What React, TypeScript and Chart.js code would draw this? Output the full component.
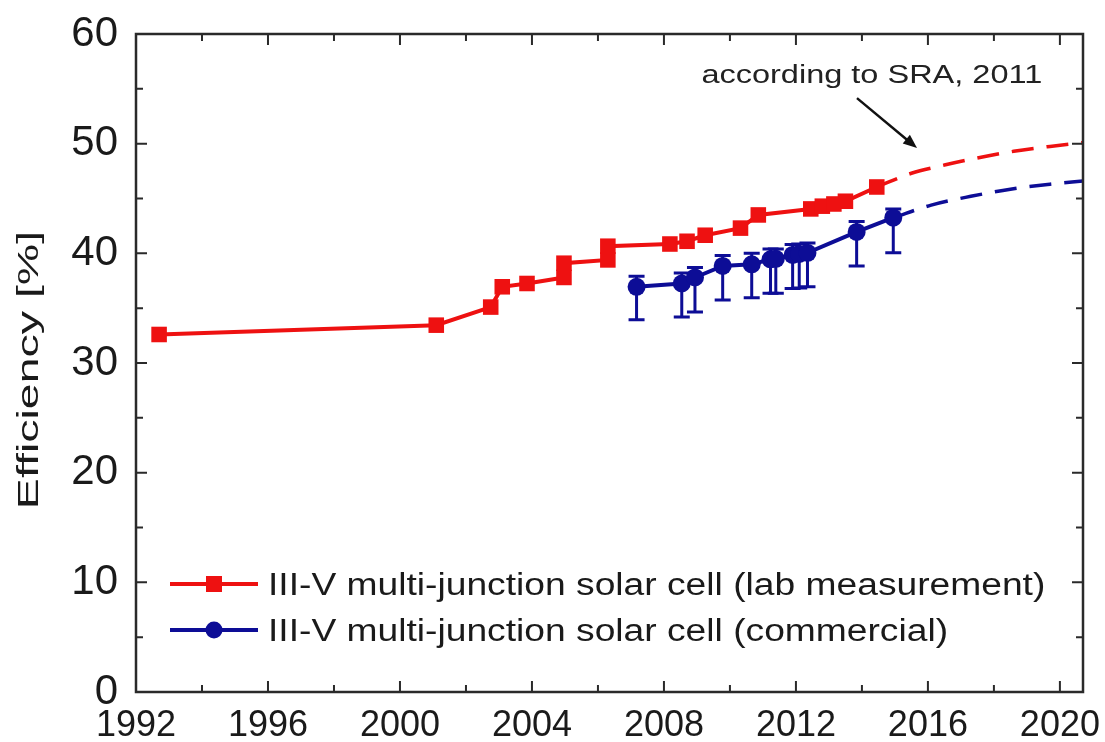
import React, { useEffect, useRef } from 'react';
import { Chart, registerables } from 'chart.js';

Chart.register(...registerables);

// ---- data ----
const labYears = [1992.7, 2001.1, 2002.75, 2003.1, 2003.85, 2004.97, 2004.97, 2006.3, 2006.3, 2008.18, 2008.7, 2009.25, 2010.32, 2010.86, 2012.45, 2012.8, 2013.15, 2013.5, 2014.45];
const labEff = [32.6, 33.45, 35.1, 36.95, 37.25, 37.8, 39.1, 39.4, 40.65, 40.85, 41.1, 41.65, 42.3, 43.5, 44.05, 44.3, 44.5, 44.75, 46.05];

const labProjYears = [2014.45, 2015.5, 2016.5, 2017.5, 2018.6, 2019.7, 2020.7];
const labProjEff = [46.05, 47.3, 48.05, 48.7, 49.3, 49.75, 50.1];

const comYears = [2007.17, 2008.54, 2008.94, 2009.78, 2010.66, 2011.23, 2011.39, 2011.9, 2012.1, 2012.35, 2013.84, 2014.95];
const comEff = [36.95, 37.25, 37.8, 38.85, 39.0, 39.45, 39.5, 39.85, 39.95, 40.05, 41.95, 43.25];
const comErrLow = [3.0, 3.05, 3.15, 3.1, 3.05, 3.1, 3.15, 3.05, 3.1, 3.1, 3.1, 3.2];
const comErrHigh = [0.95, 0.95, 0.9, 0.95, 1.0, 0.95, 0.9, 0.95, 0.9, 0.9, 0.95, 0.8];

const comProjYears = [2014.95, 2016.1, 2017.3, 2018.5, 2019.7, 2020.7];
const comProjEff = [43.25, 44.4, 45.2, 45.85, 46.3, 46.6];

const seriesLabels = [
  'III-V multi-junction solar cell (lab measurement)',
  'III-V multi-junction solar cell (commercial)',
];

const xTickLabels = [1992, 1996, 2000, 2004, 2008, 2012, 2016, 2020];
const xMinorTicks = [1994, 1998, 2002, 2006, 2010, 2014, 2018];
const yTickLabels = [0, 10, 20, 30, 40, 50, 60];
const yMinorTicks = [5, 15, 25, 35, 45, 55];

const yTitle = 'Efficiency [%]';
const noteText = 'according to SRA, 2011';
const notePos = { x: 2014.3, y: 56.2 };
const arrowFrom = { x: 2013.85, y: 54.15 };
const arrowTo = { x: 2015.67, y: 49.6 };

const RED = '#ee1111';
const BLUE = '#0d0d96';
const INK = '#1a1a1a';
const FONT = "'Liberation Sans', Arial, sans-serif";

const pts = (xs: number[], ys: number[]) => xs.map((x, i) => ({ x, y: ys[i] }));

const decorPlugin = {
  id: 'decor',
  beforeDatasetsDraw(chart: any) {
    const { ctx, scales } = chart;
    const xs = scales.x, ys = scales.y;
    ctx.save();
    ctx.strokeStyle = BLUE;
    ctx.lineWidth = 3;
    comYears.forEach((yr, i) => {
      const px = xs.getPixelForValue(yr);
      const lo = ys.getPixelForValue(comEff[i] - comErrLow[i]);
      const hi = ys.getPixelForValue(comEff[i] + comErrHigh[i]);
      ctx.beginPath();
      ctx.moveTo(px, lo);
      ctx.lineTo(px, hi);
      ctx.moveTo(px - 8, lo);
      ctx.lineTo(px + 8, lo);
      ctx.moveTo(px - 8, hi);
      ctx.lineTo(px + 8, hi);
      ctx.stroke();
    });
    ctx.restore();
  },
  afterDraw(chart: any) {
    const { ctx, chartArea: a, scales } = chart;
    const xs = scales.x, ys = scales.y;
    ctx.save();
    // frame
    ctx.strokeStyle = '#2a2a2a';
    ctx.lineWidth = 2.5;
    ctx.strokeRect(a.left, a.top, a.right - a.left, a.bottom - a.top);
    // inward ticks
    ctx.lineWidth = 2;
    const xt = (v: number, len: number) => {
      const p = xs.getPixelForValue(v);
      ctx.beginPath();
      ctx.moveTo(p, a.bottom); ctx.lineTo(p, a.bottom - len);
      ctx.moveTo(p, a.top); ctx.lineTo(p, a.top + len);
      ctx.stroke();
    };
    const yt = (v: number, len: number) => {
      const p = ys.getPixelForValue(v);
      ctx.beginPath();
      ctx.moveTo(a.left, p); ctx.lineTo(a.left + len, p);
      ctx.moveTo(a.right, p); ctx.lineTo(a.right - len, p);
      ctx.stroke();
    };
    xTickLabels.forEach((v) => xt(v, 11));
    xMinorTicks.forEach((v) => xt(v, 7));
    yTickLabels.forEach((v) => yt(v, 11));
    yMinorTicks.forEach((v) => yt(v, 7));

    // y title (stretched along text direction)
    ctx.fillStyle = INK;
    ctx.save();
    ctx.translate(38, (a.top + a.bottom) / 2 + 7);
    ctx.rotate(-Math.PI / 2);
    ctx.scale(1.55, 1);
    ctx.font = `30px ${FONT}`;
    ctx.textAlign = 'center';
    ctx.textBaseline = 'alphabetic';
    ctx.fillText(yTitle, 0, 0);
    ctx.restore();

    // annotation text
    ctx.save();
    ctx.translate(xs.getPixelForValue(notePos.x), ys.getPixelForValue(notePos.y));
    ctx.scale(1.25, 1);
    ctx.font = `26px ${FONT}`;
    ctx.textAlign = 'center';
    ctx.textBaseline = 'middle';
    ctx.fillStyle = '#222';
    ctx.fillText(noteText, 0, 0);
    ctx.restore();

    // arrow
    const x1 = xs.getPixelForValue(arrowFrom.x), y1 = ys.getPixelForValue(arrowFrom.y);
    const x2 = xs.getPixelForValue(arrowTo.x), y2 = ys.getPixelForValue(arrowTo.y);
    const ang = Math.atan2(y2 - y1, x2 - x1);
    ctx.strokeStyle = '#111';
    ctx.fillStyle = '#111';
    ctx.lineWidth = 2.5;
    ctx.beginPath();
    ctx.moveTo(x1, y1);
    ctx.lineTo(x2 - 8 * Math.cos(ang), y2 - 8 * Math.sin(ang));
    ctx.stroke();
    ctx.beginPath();
    ctx.moveTo(x2, y2);
    ctx.lineTo(x2 - 15 * Math.cos(ang - 0.38), y2 - 15 * Math.sin(ang - 0.38));
    ctx.lineTo(x2 - 15 * Math.cos(ang + 0.38), y2 - 15 * Math.sin(ang + 0.38));
    ctx.closePath();
    ctx.fill();

    // legend inside plot
    const rows = [
      { color: RED, style: 'rect', y: a.bottom - 108 },
      { color: BLUE, style: 'circle', y: a.bottom - 62 },
    ];
    rows.forEach((r, i) => {
      const l0 = a.left + 34, l1 = a.left + 122, mx = a.left + 78;
      ctx.strokeStyle = r.color;
      ctx.fillStyle = r.color;
      ctx.lineWidth = 4;
      ctx.beginPath();
      ctx.moveTo(l0, r.y); ctx.lineTo(l1, r.y);
      ctx.stroke();
      if (r.style === 'rect') {
        ctx.fillRect(mx - 8, r.y - 8, 16, 16);
      } else {
        ctx.beginPath();
        ctx.arc(mx, r.y, 8.5, 0, Math.PI * 2);
        ctx.fill();
      }
      ctx.save();
      ctx.translate(a.left + 132, r.y + 11);
      ctx.scale(1.2, 1);
      ctx.font = `31px ${FONT}`;
      ctx.textAlign = 'left';
      ctx.textBaseline = 'alphabetic';
      ctx.fillStyle = '#1a1a1a';
      ctx.fillText(seriesLabels[i], 0, 0);
      ctx.restore();
    });
    ctx.restore();
  },
};

export default function App() {
  const ref = useRef<HTMLCanvasElement | null>(null);
  useEffect(() => {
    if (!ref.current) return;
    const chart = new Chart(ref.current, {
      type: 'line',
      data: {
        datasets: [
          {
            label: seriesLabels[0],
            data: pts(labYears, labEff),
            borderColor: RED,
            backgroundColor: RED,
            borderWidth: 4,
            pointStyle: 'rect',
            pointRadius: 11,
            pointBorderWidth: 0,
            pointHoverRadius: 11,
          },
          {
            label: 'lab projection',
            data: pts(labProjYears, labProjEff),
            borderColor: RED,
            borderWidth: 3.5,
            borderDash: [22, 13],
            pointRadius: 0,
            cubicInterpolationMode: 'monotone',
          },
          {
            label: seriesLabels[1],
            data: pts(comYears, comEff),
            borderColor: BLUE,
            backgroundColor: BLUE,
            borderWidth: 4,
            pointStyle: 'circle',
            pointRadius: 9,
            pointBorderWidth: 0,
            pointHoverRadius: 9,
          },
          {
            label: 'commercial projection',
            data: pts(comProjYears, comProjEff),
            borderColor: BLUE,
            borderWidth: 3.5,
            borderDash: [22, 13],
            pointRadius: 0,
            cubicInterpolationMode: 'monotone',
          },
        ],
      },
      options: {
        animation: false,
        responsive: false,
        devicePixelRatio: 1,
        layout: { padding: { top: 34, right: 22, bottom: 0, left: 0 } },
        plugins: { legend: { display: false }, tooltip: { enabled: false } },
        scales: {
          x: {
            type: 'linear',
            min: 1992,
            max: 2020.7,
            afterBuildTicks: (s: any) => { s.ticks = xTickLabels.map((v) => ({ value: v })); },
            afterFit: (s: any) => {
              s.height = 50;
              s.paddingLeft = 0;
              s.paddingRight = 0;
            },
            ticks: {
              font: { family: FONT, size: 36 },
              color: INK,
              padding: 12,
              maxRotation: 0,
              autoSkip: false,
              callback: (v: any) => String(v),
            },
            grid: { display: false, drawTicks: false },
            border: { display: false },
          },
          y: {
            type: 'linear',
            min: 0,
            max: 60,
            afterBuildTicks: (s: any) => { s.ticks = yTickLabels.map((v) => ({ value: v })); },
            afterFit: (s: any) => {
              s.width = 136;
              s.paddingTop = 0;
              s.paddingBottom = 0;
            },
            ticks: {
              font: { family: FONT, size: 42 },
              color: INK,
              padding: 18,
              autoSkip: false,
              callback: (v: any) => String(v),
            },
            grid: { display: false, drawTicks: false },
            border: { display: false },
          },
        },
      },
      plugins: [decorPlugin],
    });
    return () => chart.destroy();
  }, []);
  return (
    <div style={{ position: 'absolute', left: 0, top: 0, width: 1105, height: 742, background: '#fff' }}>
      <canvas ref={ref} width={1105} height={742} />
    </div>
  );
}
